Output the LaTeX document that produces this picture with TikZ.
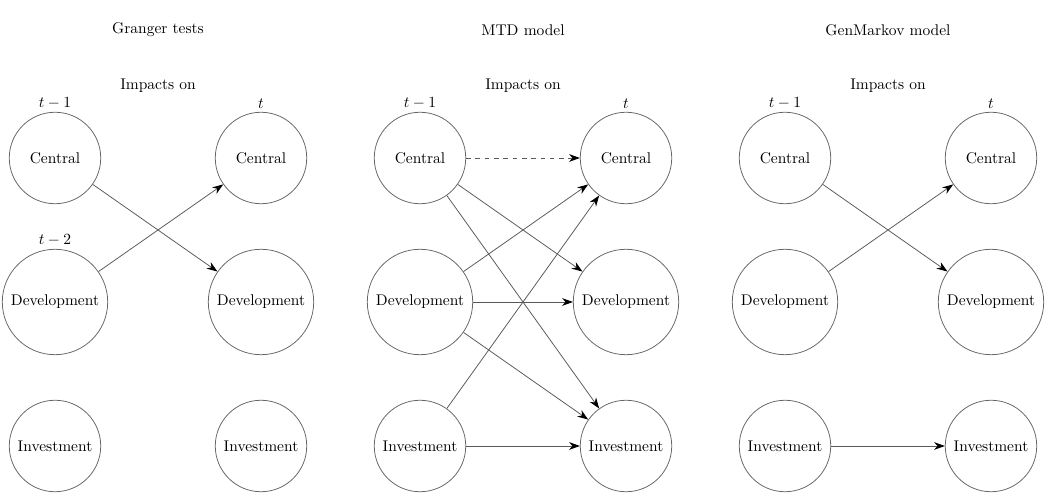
\documentclass[tikz,border=0pt]{standalone}
\usetikzlibrary{arrows.meta}
\begin{document}
\begin{tikzpicture}[x=0.645pt,y=-0.645pt,
  var/.style={draw=black!60,circle,minimum size=59pt,inner sep=1pt,line width=0.5pt},
  bigvar/.style={var,minimum size=68pt},
  lab/.style={inner sep=1pt},
  link/.style={draw=black!65,line width=0.5pt,-{Stealth[length=7pt,width=5pt,black]}}]
\useasboundingbox (0,0) rectangle (1047,495);
\foreach \p/\ox/\ttl in {a/55/Granger tests, b/420/MTD model, c/785/GenMarkov model}{
  \node[lab] (\p title) at (\ox+103,30) {\ttl};
  \node[lab] (\p imp) at (\ox+103,86) {Impacts on};
  \node[var] (\p C1) at (\ox,158) {Central};
  \node[bigvar] (\p D1) at (\ox,302) {Development};
  \node[var] (\p I1) at (\ox,446) {Investment};
  \node[var] (\p C0) at (\ox+206,158) {Central};
  \node[bigvar] (\p D0) at (\ox+206,302) {Development};
  \node[var] (\p I0) at (\ox+206,446) {Investment};
  \node[lab,anchor=south] (\p lt1) at ([yshift=1pt]\p C1.north) {$t-1$};
  \node[lab,anchor=south] (\p lt) at ([yshift=1pt]\p C0.north) {$t$};
}
\node[lab,anchor=south] (alt2) at ([yshift=1pt]aD1.north) {$t-2$};
% Granger
\draw[link] (aC1) -- (aD0);
\draw[link] (aD1) -- (aC0);
% MTD
\draw[link,dashed] (bC1) -- (bC0);
\draw[link] (bC1) -- (bD0);
\draw[link] (bC1) -- (bI0);
\draw[link] (bD1) -- (bC0);
\draw[link] (bD1) -- (bD0);
\draw[link] (bD1) -- (bI0);
\draw[link] (bI1) -- (bC0);
\draw[link] (bI1) -- (bI0);
% GenMarkov
\draw[link] (cC1) -- (cD0);
\draw[link] (cD1) -- (cC0);
\draw[link] (cI1) -- (cI0);
\end{tikzpicture}
\end{document}
